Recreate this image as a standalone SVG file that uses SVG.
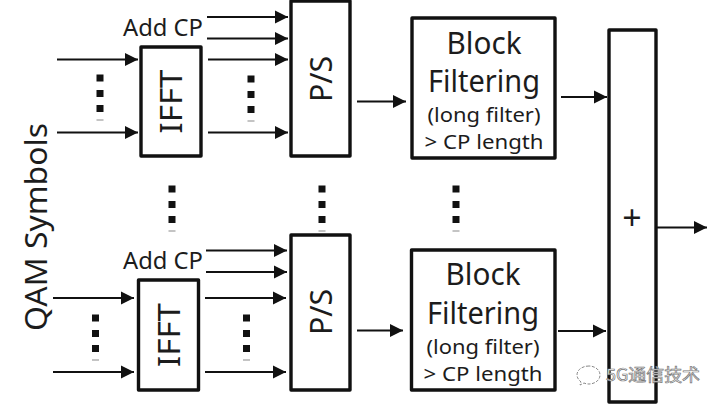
<svg xmlns="http://www.w3.org/2000/svg" width="723" height="407" viewBox="0 0 723 407">
<style>
.box{fill:#fff;stroke:#111;stroke-width:3.4;stroke-linejoin:round}
.ln{fill:none;stroke:#111;stroke-width:2}
.d{fill:#111}
.f{fill:#c4c4c4}
text{font-family:"Noto Sans","Open Sans","DejaVu Sans",sans-serif;fill:#1c1c1c;text-anchor:middle}
.t1{font-size:30px}
.t2{font-size:20px}
.t3{font-size:23px}
.wm{font-family:"Noto Sans CJK SC","Noto Sans",sans-serif;font-size:17px;fill:#fff;stroke:#777;stroke-width:.7;text-anchor:start}
</style>
<defs>
<marker id="a" markerUnits="userSpaceOnUse" markerWidth="14" markerHeight="14" refX="13" refY="7" orient="auto"><path d="M0 0.5L13 7L0 13.5z" fill="#111"/></marker>
<g id="dots"><rect class="d" x="-3.5" y="-3.5" width="7" height="7"/><rect class="d" x="-3.5" y="12" width="7" height="7"/><rect class="d" x="-3.5" y="27" width="7" height="7"/><rect class="f" x="-3.5" y="41" width="7" height="2"/></g>
</defs>
<g id="connectors">
<path class="ln" marker-end="url(#a)" d="M57 59.5H138"/>
<path class="ln" marker-end="url(#a)" d="M57 132.5H138"/>
<path class="ln" marker-end="url(#a)" d="M207 17H288"/>
<path class="ln" marker-end="url(#a)" d="M207 38.5H288"/>
<path class="ln" marker-end="url(#a)" d="M208 59.5H288"/>
<path class="ln" marker-end="url(#a)" d="M208 132.5H288"/>
<path class="ln" marker-end="url(#a)" d="M357 101.5H406"/>
<path class="ln" marker-end="url(#a)" d="M561 97H607"/>
<path class="ln" marker-end="url(#a)" d="M53 298H134"/>
<path class="ln" marker-end="url(#a)" d="M53 372H134"/>
<path class="ln" marker-end="url(#a)" d="M206 250.5H287"/>
<path class="ln" marker-end="url(#a)" d="M206 272H287"/>
<path class="ln" marker-end="url(#a)" d="M205 298H286"/>
<path class="ln" marker-end="url(#a)" d="M205 372H286"/>
<path class="ln" marker-end="url(#a)" d="M357 330.5H403"/>
<path class="ln" marker-end="url(#a)" d="M558 331H606"/>
<path class="ln" marker-end="url(#a)" d="M657 227.5H707"/>
</g>
<g id="ellipses">
<use href="#dots" x="100" y="78"/>
<use href="#dots" x="251" y="79"/>
<use href="#dots" x="95.500" y="318"/>
<use href="#dots" x="246.500" y="318"/>
<use href="#dots" x="172" y="189"/>
<use href="#dots" x="322" y="189"/>
<use href="#dots" x="456" y="189"/>
</g>
<g id="label-qam"><text class="t1" transform="translate(47 227) rotate(-90)" textLength="208" lengthAdjust="spacingAndGlyphs">QAM Symbols</text></g>
<g id="label-cp1"><text class="t3" x="163" y="36" textLength="80" lengthAdjust="spacingAndGlyphs">Add CP</text></g>
<g id="label-cp2"><text class="t3" x="163" y="269" textLength="80" lengthAdjust="spacingAndGlyphs">Add CP</text></g>
<g id="ifft-1"><rect class="box" x="141" y="47" width="60" height="109"/><text class="t1" transform="translate(182 101.500) rotate(-90)" textLength="64" lengthAdjust="spacingAndGlyphs">IFFT</text></g>
<g id="ps-1"><rect class="box" x="291" y="1" width="59" height="155"/><text class="t1" transform="translate(332 79) rotate(-90)" textLength="46" lengthAdjust="spacingAndGlyphs">P/S</text></g>
<g id="filter-1"><rect class="box" x="412" y="18" width="143" height="140"/>
<text class="t1" x="484" y="54" textLength="75" lengthAdjust="spacingAndGlyphs">Block</text>
<text class="t1" x="484" y="92" textLength="112" lengthAdjust="spacingAndGlyphs">Filtering</text>
<text class="t2" x="484" y="122" textLength="113" lengthAdjust="spacingAndGlyphs">(long filter)</text>
<text class="t2" x="484" y="149" textLength="119" lengthAdjust="spacingAndGlyphs">&gt; CP length</text></g>
<g id="ifft-2"><rect class="box" x="138.500" y="280" width="60" height="110"/><text class="t1" transform="translate(180 335) rotate(-90)" textLength="64" lengthAdjust="spacingAndGlyphs">IFFT</text></g>
<g id="ps-2"><rect class="box" x="291" y="235" width="59" height="155"/><text class="t1" transform="translate(332 312) rotate(-90)" textLength="46" lengthAdjust="spacingAndGlyphs">P/S</text></g>
<g id="filter-2"><rect class="box" x="411.500" y="250" width="143.500" height="140"/>
<text class="t1" x="483" y="285" textLength="75" lengthAdjust="spacingAndGlyphs">Block</text>
<text class="t1" x="483" y="324" textLength="112" lengthAdjust="spacingAndGlyphs">Filtering</text>
<text class="t2" x="483" y="354" textLength="113" lengthAdjust="spacingAndGlyphs">(long filter)</text>
<text class="t2" x="483" y="381" textLength="119" lengthAdjust="spacingAndGlyphs">&gt; CP length</text></g>
<g id="sum"><rect class="box" x="609" y="30" width="47" height="372"/><text x="632" y="230" style="font-size:34px">+</text></g>
<g id="watermark">
<path d="M590 366c-7 0-12 4-12 9 0 3 2 5 4 7l-1 3 4-2c2 1 4 1 5 1c6 0 11-4 11-9s-5-9-11-9z" fill="#fff" stroke="#888" stroke-width="1" stroke-dasharray="3 1.500" transform="translate(-1 0)"/>
<text class="wm" x="606" y="381" textLength="94" lengthAdjust="spacingAndGlyphs">5G通信技术</text>
</g>
</svg>
